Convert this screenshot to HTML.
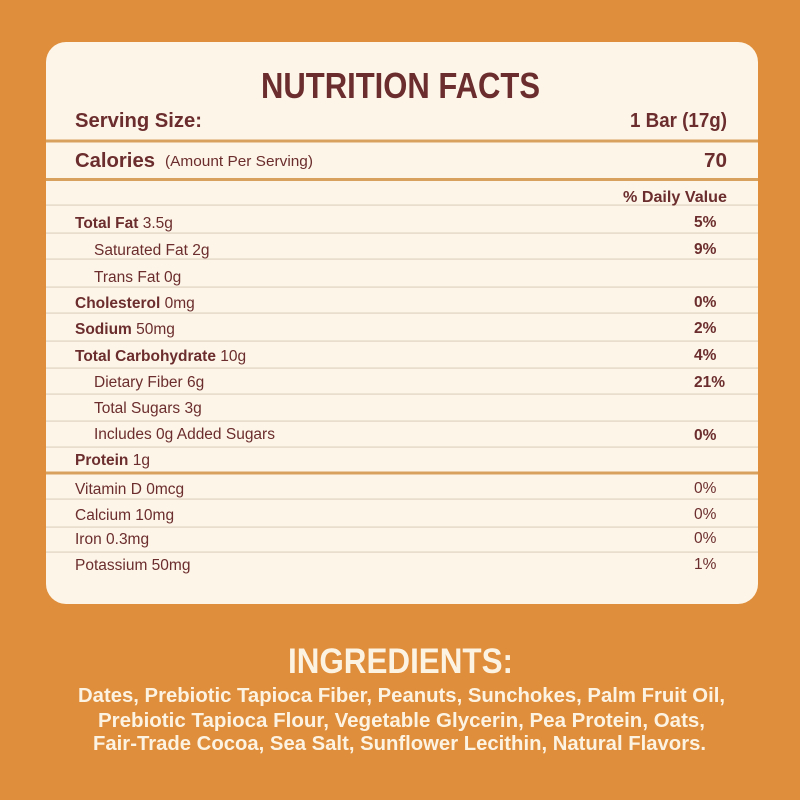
<!DOCTYPE html>
<html>
<head>
<meta charset="utf-8">
<style>
  html,body{margin:0;padding:0;background:#df8e3b;}
  svg{display:block;}
  text{font-family:"Liberation Sans", sans-serif;}
</style>
</head>
<body>
<svg width="800" height="800" viewBox="0 0 800 800" xmlns="http://www.w3.org/2000/svg">
  <rect x="0" y="0" width="800" height="800" fill="#df8e3b"/>
  <rect x="46" y="42" width="712" height="562" rx="20" ry="20" fill="#fdf5e8"/>

  <!-- thick lines -->
  <rect x="46" y="139.5" width="712" height="3" fill="#d9a15e"/>
  <rect x="46" y="178" width="712" height="3" fill="#d9a15e"/>
  <rect x="46" y="471.5" width="712" height="3" fill="#d9a15e"/>

  <!-- thin lines -->
  <g fill="#e7dccb">
    <rect x="46" y="204.3" width="712" height="1.6"/>
    <rect x="46" y="232.3" width="712" height="1.6"/>
    <rect x="46" y="258.3" width="712" height="1.6"/>
    <rect x="46" y="286.3" width="712" height="1.6"/>
    <rect x="46" y="312.3" width="712" height="1.6"/>
    <rect x="46" y="340.3" width="712" height="1.6"/>
    <rect x="46" y="367.3" width="712" height="1.6"/>
    <rect x="46" y="393.3" width="712" height="1.6"/>
    <rect x="46" y="420.3" width="712" height="1.6"/>
    <rect x="46" y="446.3" width="712" height="1.6"/>
    <rect x="46" y="498.3" width="712" height="1.6"/>
    <rect x="46" y="526.3" width="712" height="1.6"/>
    <rect x="46" y="551.3" width="712" height="1.6"/>
  </g>

  <g fill="#6b2d2d">
    <text x="261" y="98" font-size="36" font-weight="bold" textLength="279" lengthAdjust="spacingAndGlyphs">NUTRITION FACTS</text>

    <text x="75" y="127" font-size="20" font-weight="bold" textLength="127" lengthAdjust="spacingAndGlyphs">Serving Size:</text>
    <text x="630" y="127" font-size="20" font-weight="bold" textLength="97" lengthAdjust="spacingAndGlyphs">1 Bar (17g)</text>

    <text x="75" y="167" font-size="20" font-weight="bold" textLength="80" lengthAdjust="spacingAndGlyphs">Calories</text>
    <text x="165" y="166" font-size="14.5" textLength="148" lengthAdjust="spacingAndGlyphs">(Amount Per Serving)</text>
    <text x="704" y="167" font-size="20" font-weight="bold" textLength="23" lengthAdjust="spacingAndGlyphs">70</text>

    <text x="623" y="202" font-size="15.5" font-weight="bold" textLength="104" lengthAdjust="spacingAndGlyphs">% Daily Value</text>

    <g font-size="15.5">
      <text x="75" y="228"><tspan font-weight="bold">Total Fat</tspan> 3.5g</text>
      <text x="694" y="227" font-weight="bold">5%</text>

      <text x="94" y="255">Saturated Fat 2g</text>
      <text x="694" y="254" font-weight="bold">9%</text>

      <text x="94" y="282">Trans Fat 0g</text>

      <text x="75" y="308"><tspan font-weight="bold">Cholesterol</tspan> 0mg</text>
      <text x="694" y="307" font-weight="bold">0%</text>

      <text x="75" y="334"><tspan font-weight="bold">Sodium</tspan> 50mg</text>
      <text x="694" y="333" font-weight="bold">2%</text>

      <text x="75" y="361"><tspan font-weight="bold">Total Carbohydrate</tspan> 10g</text>
      <text x="694" y="360" font-weight="bold">4%</text>

      <text x="94" y="387">Dietary Fiber 6g</text>
      <text x="694" y="387" font-weight="bold">21%</text>

      <text x="94" y="413">Total Sugars 3g</text>

      <text x="94" y="439">Includes 0g Added Sugars</text>
      <text x="694" y="440" font-weight="bold">0%</text>

      <text x="75" y="465"><tspan font-weight="bold">Protein</tspan> 1g</text>

      <text x="75" y="494">Vitamin D 0mcg</text>
      <text x="694" y="493">0%</text>

      <text x="75" y="520">Calcium 10mg</text>
      <text x="694" y="519">0%</text>

      <text x="75" y="544">Iron 0.3mg</text>
      <text x="694" y="543">0%</text>

      <text x="75" y="570">Potassium 50mg</text>
      <text x="694" y="569">1%</text>
    </g>
  </g>

  <g fill="#fdf3e3" font-weight="bold">
    <text x="288" y="673" font-size="35" textLength="225" lengthAdjust="spacingAndGlyphs">INGREDIENTS:</text>
    <text x="78" y="702" font-size="20" textLength="647" lengthAdjust="spacingAndGlyphs">Dates, Prebiotic Tapioca Fiber, Peanuts, Sunchokes, Palm Fruit Oil,</text>
    <text x="98" y="727" font-size="20" textLength="607" lengthAdjust="spacingAndGlyphs">Prebiotic Tapioca Flour, Vegetable Glycerin, Pea Protein, Oats,</text>
    <text x="93" y="750" font-size="20" textLength="613" lengthAdjust="spacingAndGlyphs">Fair-Trade Cocoa, Sea Salt, Sunflower Lecithin, Natural Flavors.</text>
  </g>
</svg>
</body>
</html>
